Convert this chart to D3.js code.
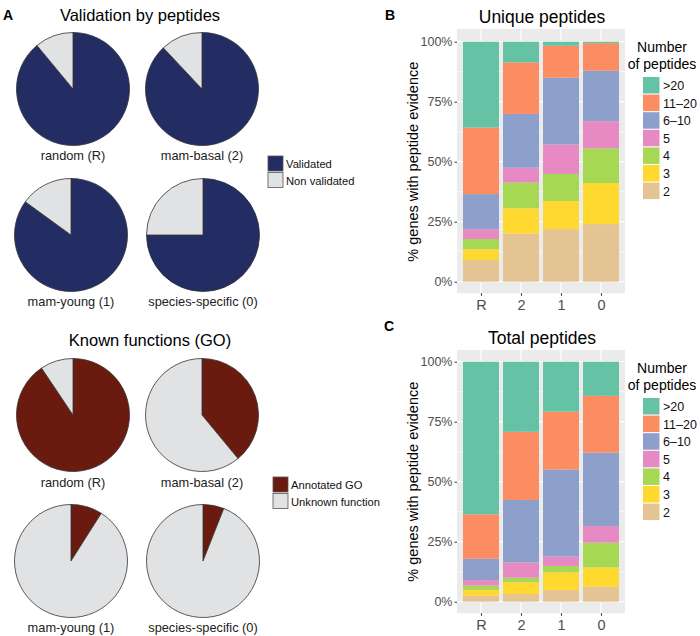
<!DOCTYPE html>
<html><head><meta charset="utf-8">
<script src="https://cdn.jsdelivr.net/npm/d3@7"></script>
<style>body{margin:0;background:#fff}svg{font-family:"Liberation Sans",Arial,sans-serif}</style>
</head><body><svg id="c" width="700" height="636"></svg>
<script>
// ---- data ----
const pieGroups = ["random (R)", "mam-basal (2)", "mam-young (1)", "species-specific (0)"];
const validated = [89, 88, 85, 75];
const nonValidated = [11, 12, 15, 25];
const annotatedGO = [90.6, 39, 9, 6];
const unknownFunction = [9.4, 61, 91, 94];

const barCats = ["R", "2", "1", "0"];
const peptideBins = ["2", "3", "4", "5", "6\u201310", "11\u201320", ">20"];
const legendLabels = [">20", "11\u201320", "6\u201310", "5", "4", "3", "2"];
// unique peptides, per category, segments in order of peptideBins (%)
const uniqueR = [9.0, 4.5, 4.3, 4.1, 14.6, 27.7, 35.8];
const unique2 = [20.1, 10.5, 10.7, 6.2, 22.4, 21.5, 8.6];
const unique1 = [21.9, 11.7, 11.3, 12.3, 27.8, 13.3, 1.7];
const unique0 = [24.0, 17.1, 14.5, 11.3, 21.0, 11.5, 0.6];
// total peptides
const totalR = [2.5, 2.4, 1.8, 2.3, 8.9, 18.5, 63.6];
const total2 = [3.2, 4.9, 1.9, 6.3, 26.1, 28.4, 29.2];
const total1 = [4.9, 7.3, 2.7, 3.9, 36.3, 24.1, 20.8];
const total0 = [6.25, 8.05, 10.3, 6.9, 30.6, 23.7, 14.2];
const yTicks = [0, 25, 50, 75, 100];

const set2 = {"2":"#e5c494","3":"#ffd92f","4":"#a6d854","5":"#e78ac3","6\u201310":"#8da0cb","11\u201320":"#fc8d62",">20":"#66c2a5"};

const svg = d3.select("#c");

// ---- panel labels & titles ----
function txt(x, y, s, size, opts = {}) {
  return svg.append("text").attr("x", x).attr("y", y).text(s)
    .attr("font-size", size).attr("text-anchor", opts.anchor || "start")
    .attr("font-weight", opts.bold ? "bold" : "normal")
    .attr("fill", opts.fill || "#000");
}
txt(3, 20, "A", 14, {bold: true});
txt(140, 21, "Validation by peptides", 16.5, {anchor: "middle"});
txt(150, 346, "Known functions (GO)", 16.5, {anchor: "middle"});
txt(385, 20, "B", 14, {bold: true});
txt(384, 331, "C", 14, {bold: true});

// ---- pies ----
const pieCenters = [[73, 89], [202, 89], [71, 235], [203, 235]];
const pieCenters2 = [[73, 415], [202, 415], [71, 561], [203, 561]];
const labelY = [160, 160, 306, 306];
const labelY2 = [487, 487, 632, 632];
const pie = d3.pie().sort(null).value(d => d.v);
const arc = d3.arc().innerRadius(0).outerRadius(56.5);

function drawPies(centers, labY, a, b, ca, cb) {
  pieGroups.forEach((g, i) => {
    const gg = svg.append("g").attr("transform", `translate(${centers[i][0]},${centers[i][1]})`);
    const data = [{v: a[i], c: ca}, {v: b[i], c: cb}];
    gg.selectAll("path").data(pie(data)).join("path")
      .attr("d", arc).attr("fill", d => d.data.c)
      .attr("stroke", "#333").attr("stroke-width", 0.8);
    txt(centers[i][0], labY[i], g, 12.8, {anchor: "middle", fill: "#222"});
  });
}
drawPies(pieCenters, labelY, validated, nonValidated, "#232d64", "#e1e2e4");
drawPies(pieCenters2, labelY2, annotatedGO, unknownFunction, "#6a1a0f", "#e1e2e4");

function pieLegend(x, y, items) {
  items.forEach((it, i) => {
    svg.append("rect").attr("x", x).attr("y", y + i * 16.5).attr("width", 15).attr("height", 15)
      .attr("fill", it[1]).attr("stroke", "#555").attr("stroke-width", 0.8);
    txt(x + 18, y + i * 16.5 + 12, it[0], 11.2, {fill: "#111"});
  });
}
pieLegend(268, 156, [["Validated", "#232d64"], ["Non validated", "#e1e2e4"]]);
pieLegend(273, 477, [["Annotated GO", "#6a1a0f"], ["Unknown function", "#e1e2e4"]]);

// ---- stacked bars ----
function barPanel(top, zeroY, title, rows) {
  const left = 457, right = 625;
  const panelTop = top, panelBottom = zeroY + 11.5;
  const x = d3.scalePoint().domain(barCats).range([left, right]).padding(0.6);
  const step = x.step();
  const y = d3.scaleLinear().domain([0, 100]).range([zeroY, zeroY - 240]);
  const g = svg.append("g");
  g.append("rect").attr("x", left).attr("y", panelTop).attr("width", right - left)
    .attr("height", panelBottom - panelTop).attr("fill", "#ebebeb");
  // minor grid
  [12.5, 37.5, 62.5, 87.5].forEach(v => g.append("line").attr("x1", left).attr("x2", right)
    .attr("y1", y(v)).attr("y2", y(v)).attr("stroke", "#fff").attr("stroke-width", 0.6));
  yTicks.forEach(v => g.append("line").attr("x1", left).attr("x2", right)
    .attr("y1", y(v)).attr("y2", y(v)).attr("stroke", "#fff").attr("stroke-width", 1.2));
  barCats.forEach(c => g.append("line").attr("x1", x(c)).attr("x2", x(c))
    .attr("y1", panelTop).attr("y2", panelBottom).attr("stroke", "#fff").attr("stroke-width", 1.2));
  // bars
  const bw = step * 0.9;
  barCats.forEach((c, i) => {
    let acc = 0;
    rows[i].forEach((v, j) => {
      g.append("rect").attr("x", x(c) - bw / 2).attr("width", bw)
        .attr("y", y(acc + v)).attr("height", y(acc) - y(acc + v))
        .attr("fill", set2[peptideBins[j]]);
      acc += v;
    });
  });
  // axes
  const ya = d3.axisLeft(y).tickValues(yTicks).tickFormat(d => d + "%").tickSize(2.5).tickPadding(2);
  const yg = g.append("g").attr("transform", `translate(${left},0)`).call(ya);
  yg.select(".domain").remove();
  yg.selectAll("line").attr("stroke", "#333");
  yg.selectAll("text").attr("font-size", 12.5).attr("fill", "#4d4d4d").attr("font-family", "Liberation Sans, Arial, sans-serif");
  const xa = d3.axisBottom(x).tickSize(2.5).tickPadding(4);
  const xg = g.append("g").attr("transform", `translate(0,${panelBottom})`).call(xa);
  xg.select(".domain").remove();
  xg.selectAll("line").attr("stroke", "#333");
  xg.selectAll("text").attr("font-size", 14.5).attr("fill", "#4d4d4d").attr("font-family", "Liberation Sans, Arial, sans-serif");
  // titles
  txt(542, top - 6, title, 17.5, {anchor: "middle"});
  svg.append("text").attr("transform", `translate(418,${(zeroY + zeroY - 240) / 2}) rotate(-90)`)
    .attr("text-anchor", "middle").attr("font-size", 14.5).text("% genes with peptide evidence");
  // legend
  const lx = 643, ly = top + 48;
  txt(662, ly - 25, "Number", 14, {anchor: "middle"});
  txt(662, ly - 8, "of peptides", 14, {anchor: "middle"});
  legendLabels.forEach((l, i) => {
    g.append("rect").attr("x", lx).attr("y", ly + i * 17.6).attr("width", 16.5).attr("height", 16.5)
      .attr("fill", set2[l]);
    txt(lx + 20, ly + i * 17.6 + 13, l, 12.5, {fill: "#111"});
  });
}
barPanel(29, 281.7, "Unique peptides", [uniqueR, unique2, unique1, unique0]);
barPanel(350, 601.7, "Total peptides", [totalR, total2, total1, total0]);
</script></body></html>
